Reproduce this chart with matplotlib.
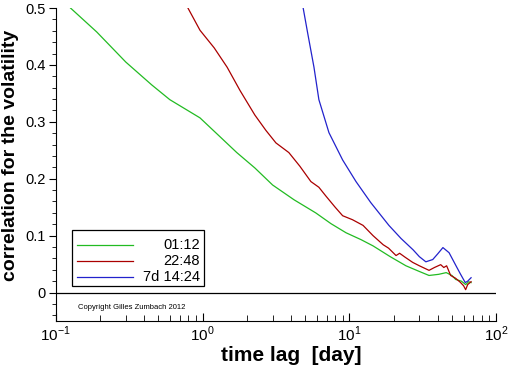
import numpy as np
import matplotlib
matplotlib.use("Agg")
import matplotlib.pyplot as plt
from matplotlib.patches import Rectangle
from matplotlib.ticker import MultipleLocator, LogLocator, NullFormatter

plt.rcParams['font.family'] = ['Liberation Sans', 'DejaVu Sans']
plt.rcParams['mathtext.fontset'] = 'custom'
plt.rcParams['mathtext.rm'] = 'Liberation Sans'

# values
green_x = [0.126, 0.19, 0.30, 0.45, 0.598, 0.96, 1.3, 1.71, 2.27, 3.0, 4.2, 5.9,
           7.5, 9.5, 12.0, 14.5, 19.0, 24.3, 30.0, 34.9, 40.6, 45.7, 50.0, 53.0,
           58.0, 62.0, 65.0, 67.5]
green_y = [0.500, 0.458, 0.405, 0.365, 0.339, 0.307, 0.275, 0.246, 0.219, 0.189,
           0.163, 0.140, 0.121, 0.105, 0.093, 0.082, 0.063, 0.047, 0.037, 0.030,
           0.032, 0.035, 0.030, 0.023, 0.020, 0.014, 0.019, 0.0175]

red_x = [0.795, 0.96, 1.2, 1.47, 1.8, 2.27, 2.7, 3.16, 3.87, 4.6, 5.47, 6.2, 6.9,
         8.0, 9.0, 10.5, 12.4, 14.5, 17.0, 18.5, 20.8, 22.0, 24.0, 27.0, 30.0,
         34.9, 38.0, 41.9, 44.0, 46.0, 49.0, 53.0, 57.0, 60.0, 62.0, 64.0, 67.5]
red_y = [0.500, 0.461, 0.430, 0.396, 0.355, 0.312, 0.285, 0.263, 0.246, 0.222,
         0.195, 0.185, 0.170, 0.150, 0.135, 0.128, 0.118, 0.100, 0.084, 0.078,
         0.065, 0.069, 0.062, 0.053, 0.047, 0.039, 0.044, 0.049, 0.044, 0.047,
         0.030, 0.025, 0.018, 0.012, 0.005, 0.014, 0.019]

blue_x = [4.83, 5.2, 5.74, 6.2, 7.26, 9.0, 11.1, 14.0, 18.6, 22.5, 27.2, 30.0,
          33.2, 37.0, 40.0, 43.4, 47.8, 53.3, 57.0, 61.6, 64.0, 67.5]
blue_y = [0.502, 0.456, 0.396, 0.339, 0.281, 0.233, 0.195, 0.158, 0.118, 0.095,
          0.075, 0.063, 0.054, 0.058, 0.068, 0.079, 0.070, 0.047, 0.033, 0.0175,
          0.020, 0.026]

labels = ['01:12', '22:48', '7d 14:24']
colors = ['#22bb22', '#aa0000', '#2222cc']

fig = plt.figure(figsize=(5.12, 3.66), dpi=100)
ax = fig.add_axes([0.109, 0.123, 0.860, 0.855])

ax.plot(green_x, green_y, color=colors[0], lw=0.9)
ax.plot(red_x, red_y, color=colors[1], lw=0.9)
ax.plot(blue_x, blue_y, color=colors[2], lw=0.9)
ax.axhline(0, color='black', lw=0.9)

ax.set_xscale('log')
ax.set_xlim(0.1, 100)
ax.set_ylim(-0.05, 0.5)

ax.spines['top'].set_visible(False)
ax.spines['right'].set_visible(False)

ax.yaxis.set_minor_locator(MultipleLocator(0.02))
ax.set_yticks([0, 0.1, 0.2, 0.3, 0.4, 0.5])
ax.set_yticklabels(['0', '0.1', '0.2', '0.3', '0.4', '0.5'])
ax.xaxis.set_minor_locator(LogLocator(base=10, subs=np.arange(2, 10)))
ax.xaxis.set_minor_formatter(NullFormatter())
ax.set_xticks([0.1, 1, 10, 100])
ax.set_xticklabels([r'$10^{-1}$', r'$10^{0}$', r'$10^{1}$', r'$10^{2}$'])

ax.tick_params(axis='y', which='major', direction='out', length=5, labelsize=10.5, pad=2)
ax.tick_params(axis='y', which='minor', direction='out', length=3)
ax.tick_params(axis='x', which='major', direction='in', length=6, labelsize=11, pad=3)
ax.tick_params(axis='x', which='minor', direction='in', length=4)

ax.set_xlabel('time lag  [day]', fontsize=15, fontweight='bold')
ax.xaxis.set_label_coords(0.535, -0.08)
ax.set_ylabel('correlation for the volatility', fontsize=14, fontweight='bold')
ax.yaxis.set_label_coords(-0.083, 0.53)

# legend box drawn by hand so the labels can be right aligned
ax.add_patch(Rectangle((0.036, 0.112), 0.300, 0.179, transform=ax.transAxes,
                       facecolor='white', edgecolor='black', lw=0.9, zorder=5))
rows = [0.243, 0.192, 0.141]
for lab, col, yy in zip(labels, colors, rows):
    ax.plot([0.048, 0.175], [yy, yy], transform=ax.transAxes, color=col,
            lw=0.9, zorder=6)
    ax.text(0.327, yy, lab, transform=ax.transAxes, ha='right', va='center',
            fontsize=10.5, zorder=6)

ax.text(0.141, -0.026, 'Copyright Gilles Zumbach 2012', fontsize=5.5, va='center')

fig.savefig('out.png', dpi=100)
